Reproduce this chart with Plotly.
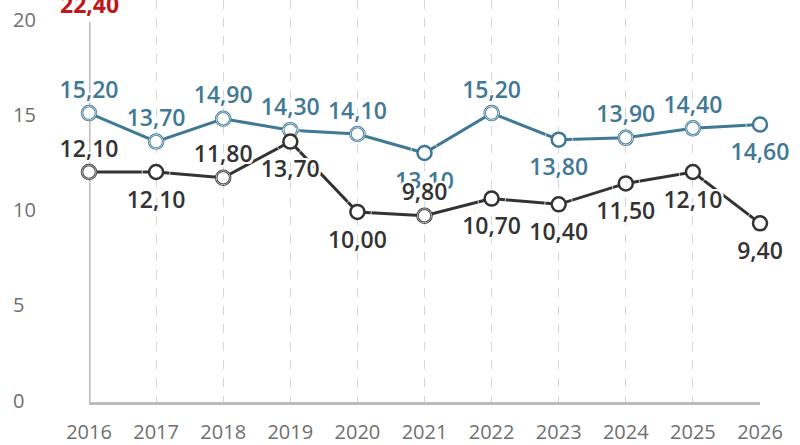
import plotly.graph_objects as go

# data
years = [2016, 2017, 2018, 2019, 2020, 2021, 2022, 2023, 2024, 2025, 2026]
blue_vals = [15.2, 13.7, 14.9, 14.3, 14.1, 13.1, 15.2, 13.8, 13.9, 14.4, 14.6]
black_vals = [12.1, 12.1, 11.8, 13.7, 10.0, 9.8, 10.7, 10.4, 11.5, 12.1, 9.4]
red_vals = [22.4]
y_ticks = [0, 5, 10, 15, 20]

# where each value label sits (above / below the point)
blue_pos = ["top", "top", "top", "top", "top", "bottom", "top", "bottom", "top", "top", "bottom"]
black_pos = ["top", "bottom", "top", "bottom", "bottom", "top", "bottom", "bottom",
             "bottom", "bottom", "bottom"]

BLUE = "#3f7995"
BLACK = "#333333"
RED = "#c0161b"
GREY_TXT = "#6f6f6f"
halo = ("-2px -2px 0 #fff, 2px -2px 0 #fff, -2px 2px 0 #fff, 2px 2px 0 #fff, "
        "0 2px 0 #fff, 2px 0 0 #fff, 0 -2px 0 #fff, -2px 0 0 #fff")


def fmt(v):
    return f"{v:.2f}".replace(".", ",")


fig = go.Figure()
for vals, col, pos in [(blue_vals, BLUE, blue_pos), (black_vals, BLACK, black_pos)]:
    fig.add_trace(go.Scatter(
        x=years, y=vals,
        mode="lines+markers",
        line=dict(color=col, width=3),
        marker=dict(size=14, color="white", line=dict(color=col, width=2.5)),
        showlegend=False,
        cliponaxis=False,
    ))
    # labels: invisible markers, bigger below the point to push the text further down
    fig.add_trace(go.Scatter(
        x=years, y=vals,
        mode="markers+text",
        text=[fmt(v) for v in vals],
        textposition=[p + " center" for p in pos],
        textfont=dict(family="Open Sans", size=23, color=col, weight=600, shadow=halo),
        marker=dict(size=[14 if p == "top" else 28 for p in pos], color="rgba(0,0,0,0)"),
        showlegend=False,
        hoverinfo="skip",
        cliponaxis=False,
    ))

fig.add_annotation(x=years[0], xref="x", y=1, yref="paper", yanchor="middle", yshift=-4,
                   text=fmt(red_vals[0]), showarrow=False,
                   font=dict(family="Open Sans", size=23, color=RED, weight=700))

# left-aligned y tick labels
for t in y_ticks:
    fig.add_annotation(x=0, xref="paper", xanchor="left", xshift=-78,
                       y=t, yref="y", yanchor="middle", yshift=2,
                       text=str(t), showarrow=False,
                       font=dict(family="Open Sans", size=20, color=GREY_TXT))

# y axis line up to the top tick
fig.add_shape(type="line", x0=years[0], x1=years[0], y0=0, y1=y_ticks[-1],
              xref="x", yref="y", line=dict(color="#bbbbbb", width=3), layer="below")

fig.update_layout(
    width=800, height=445,
    margin=dict(l=89, r=40, t=0, b=43),
    paper_bgcolor="white", plot_bgcolor="white",
    font=dict(family="Open Sans", color=GREY_TXT),
    xaxis=dict(
        range=[years[0], years[-1]],
        tickvals=years,
        showgrid=True, gridcolor="#d6d6d6", griddash="dash", gridwidth=1,
        showline=True, linecolor="#bbbbbb", linewidth=3,
        zeroline=False, automargin=False,
        ticks="", tickfont=dict(size=20, color=GREY_TXT),
        ticklabelstandoff=10,
    ),
    yaxis=dict(
        range=[0, 21.15],
        showticklabels=False,
        showgrid=False, zeroline=False, showline=False,
        automargin=False, ticks="",
    ),
)

fig.write_html("out.html", config={"displayModeBar": False},
               post_script="document.body.style.margin='0';")
